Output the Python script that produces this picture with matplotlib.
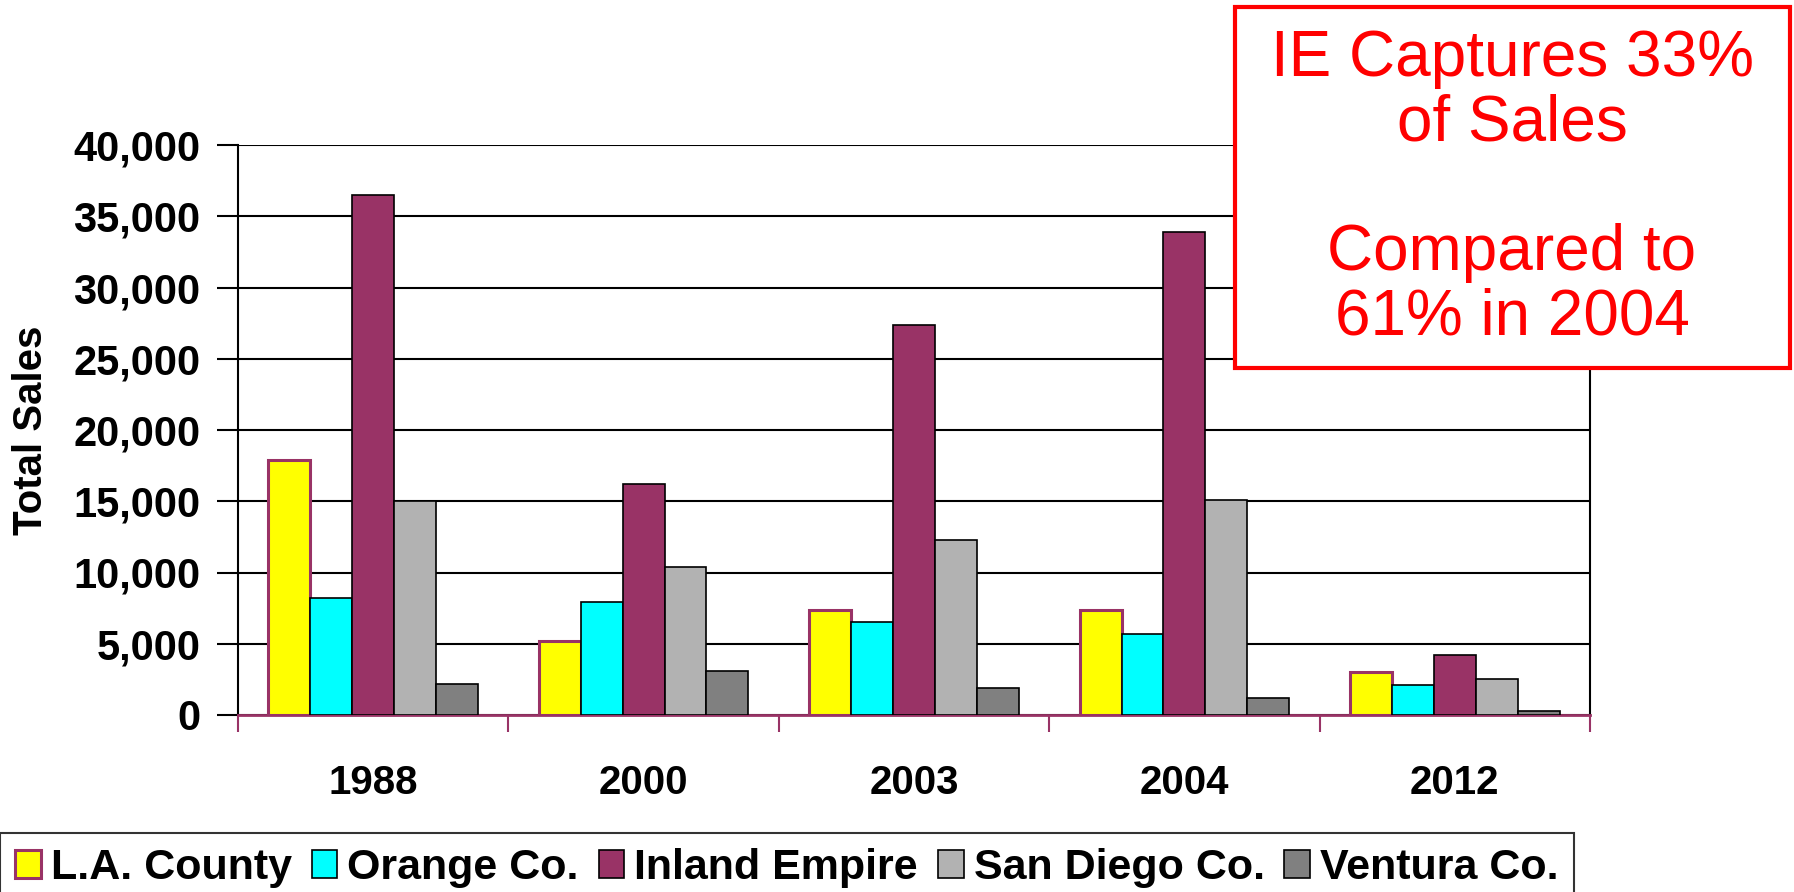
import matplotlib
matplotlib.use('Agg')
import matplotlib.pyplot as plt
from matplotlib.patches import Rectangle
from matplotlib.ticker import FixedLocator, StrMethodFormatter
import numpy as np

plt.rcParams['font.family'] = ['Liberation Sans', 'DejaVu Sans']

years = ['1988', '2000', '2003', '2004', '2012']
series_names = ['L.A. County', 'Orange Co.', 'Inland Empire', 'San Diego Co.', 'Ventura Co.']
la_county = [17900, 5200, 7400, 7400, 3000]
orange_co = [8200, 7900, 6500, 5700, 2100]
inland_empire = [36500, 16200, 27400, 33900, 4200]
san_diego_co = [15000, 10400, 12300, 15100, 2500]
ventura_co = [2200, 3100, 1900, 1200, 250]

purple = '#993366'
fills = ['#FFFF00', '#00FFFF', purple, '#B2B2B2', '#808080']
edges = [purple, 'black', 'black', 'black', 'black']
edge_w = [2.2, 1.2, 1.2, 1.2, 1.2]

fig = plt.figure(figsize=(17.94, 8.92), dpi=100)
ax = fig.add_axes([238 / 1794, 1 - 715 / 892, (1590 - 238) / 1794, (715 - 145) / 892])

x = np.arange(len(years))
w = 0.155
all_series = [la_county, orange_co, inland_empire, san_diego_co, ventura_co]
bars = []
for j, vals in enumerate(all_series):
    b = ax.bar(x + (j - 2) * w, vals, w, color=fills[j], edgecolor=edges[j],
               linewidth=edge_w[j], label=series_names[j], zorder=3)
    bars.append(b)

ax.set_xlim(-0.5, 4.5)
ax.set_ylim(0, 40000)
ax.set_yticks(np.arange(0, 40001, 5000))
ax.yaxis.set_major_formatter(StrMethodFormatter('{x:,.0f}'))
ax.grid(axis='y', color='black', linewidth=1.5, zorder=0)
ax.set_axisbelow(True)

ax.set_xticks(x)
ax.set_xticklabels(years)
ax.xaxis.set_minor_locator(FixedLocator(np.arange(-0.5, 5, 1)))
ax.tick_params(axis='x', which='major', length=0, pad=35, labelsize=29)
ax.tick_params(axis='x', which='minor', length=12, width=1.5, color=purple, direction='out')
ax.tick_params(axis='y', length=15, width=1.5, color='black', pad=12, labelsize=30)
for lab in ax.get_xticklabels() + ax.get_yticklabels():
    lab.set_fontweight('bold')

ax.spines['top'].set_visible(False)
ax.spines['left'].set_color('black')
ax.spines['left'].set_linewidth(1.5)
ax.spines['right'].set_color('black')
ax.spines['right'].set_linewidth(1.5)
ax.spines['bottom'].set_color(purple)
ax.spines['bottom'].set_linewidth(2)

fig.text(31 / 1794, 1 - 430 / 892, 'Total Sales', rotation=90, ha='center', va='center',
         fontsize=29, fontweight='bold')

leg = fig.legend(handles=bars, labels=series_names, loc='upper left',
                 bbox_to_anchor=(0, 1 - 833 / 892), ncol=5, frameon=True,
                 prop={'weight': 'bold', 'size': 31},
                 handlelength=0.6, handleheight=0.65, handletextpad=0.23,
                 columnspacing=0.46, borderpad=0.35, borderaxespad=0,
                 fancybox=False, edgecolor='black')
leg.get_frame().set_linewidth(1.5)

# callout box
fig.patches.append(Rectangle((1235 / 1794, 1 - 368 / 892), (1790 - 1235) / 1794, (368 - 7) / 892,
                             transform=fig.transFigure, facecolor='white', edgecolor='#FF0000',
                             linewidth=3, zorder=4))
fig.text(1512 / 1794, 1 - 188 / 892, 'IE Captures 33%\nof Sales\n\nCompared to\n61% in 2004',
         ha='center', va='center', color='#FF0000', fontsize=46, linespacing=1.1, zorder=5)

fig.savefig('out.png', dpi=100)
